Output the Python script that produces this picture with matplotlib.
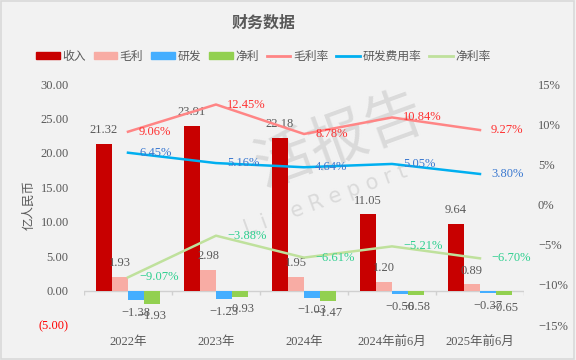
import matplotlib
matplotlib.use('Agg')
import matplotlib.pyplot as plt
import numpy as np
from matplotlib.patches import Patch, Rectangle
from matplotlib.lines import Line2D

plt.rcParams['font.family'] = ['Liberation Serif', 'Noto Sans CJK SC', 'DejaVu Sans']
plt.rcParams['axes.unicode_minus'] = True

categories = ['2022年', '2023年', '2024年', '2024年前6月', '2025年前6月']
revenue = [21.32, 23.91, 22.18, 11.05, 9.64]
gross = [1.93, 2.98, 1.95, 1.20, 0.89]
rnd = [-1.38, -1.23, -1.03, -0.56, -0.37]
net = [-1.93, -0.93, -1.47, -0.58, -0.65]
gross_rate = [9.06, 12.45, 8.78, 10.84, 9.27]
rnd_rate = [6.45, 5.16, 4.64, 5.05, 3.80]
net_rate = [-9.07, -3.88, -6.61, -5.21, -6.70]

bg = '#f2f2f2'
txt = '#595959'

fig = plt.figure(figsize=(5.76, 3.6), dpi=100, facecolor=bg)
fig.patches.append(Rectangle((0.002, 0.003), 0.995, 0.993, transform=fig.transFigure,
                             fill=False, edgecolor='#d9d9d9', lw=1.2))

ax = fig.add_axes([0.1458, 0.0972, 0.7639, 0.6694])
ax.set_facecolor('none')
ax2 = ax.twinx()

# watermark, behind the bars
ax.text(0.59, 0.61, '活报告', fontsize=42, color='#dadada', rotation=20,
        ha='center', va='center', family=['Noto Sans CJK SC'], transform=fig.transFigure, zorder=0)
ax.text(0.565, 0.445, 'L i v e R e p o r t', fontsize=15, color='#dadada', rotation=20,
        ha='center', va='center', family=['DejaVu Sans'], transform=fig.transFigure, zorder=0)

x = np.arange(len(categories))
w = 0.182
bar_sets = [(revenue, '#c80000', -1.5), (gross, '#f8aca4', -0.5),
            (rnd, '#44aeff', 0.5), (net, '#92d050', 1.5)]
for vals, col, k in bar_sets:
    xs = x + k * w
    ax.bar(xs, vals, width=w, color=col, zorder=2)
    for xi, v in zip(xs, vals):
        s = f'{v:.2f}'.replace('-', '−')
        off = 10 if v >= 0 else -9
        ax.annotate(s, (xi, v), xytext=(0, off), textcoords='offset points',
                    ha='center', va='center', fontsize=9, color=txt)

ax.set_xlim(-0.5, len(categories) - 0.5)
ax.set_ylim(-5, 30)
ax.set_yticks(np.arange(-5, 31, 5))
ax.set_yticklabels(['(5.00)'] + [f'{v:.2f}' for v in np.arange(0, 31, 5)])
ax.tick_params(axis='y', length=0, pad=11, labelsize=9, labelcolor=txt)
ax.get_yticklabels()[0].set_color('#ff0000')
ax.set_xticks(x)
ax.set_xticklabels(categories)
ax.tick_params(axis='x', length=0, pad=8, labelsize=9, labelcolor=txt)
for sp in ax.spines.values():
    sp.set_visible(False)
for sp in ax2.spines.values():
    sp.set_visible(False)
ax.axhline(0, color='#d0d0d0', lw=1, zorder=1)
ax.vlines(np.arange(-0.5, len(categories)), -0.7, 0, color='#d0d0d0', lw=1, zorder=1)
ax.set_ylabel('亿人民币', fontsize=9, color=txt, labelpad=2, family=['Noto Sans CJK SC'])

ax2.set_ylim(-15, 15)
ax2.set_yticks(np.arange(-15, 16, 5))
ax2.set_yticklabels([f'{v}%'.replace('-', '−') for v in range(-15, 16, 5)])
ax2.tick_params(axis='y', length=0, pad=10, labelsize=9, labelcolor=txt)

line_sets = [(gross_rate, '#ff8585', '#ff3030'), (rnd_rate, '#00aff0', '#3a78d0'),
             (net_rate, '#bfe19c', '#2ecf8f')]
for vals, lc, tc in line_sets:
    ax2.plot(x, vals, color=lc, lw=1.8, zorder=3)
    for xi, v in zip(x, vals):
        ax2.annotate(f'{v:.2f}%'.replace('-', '−'), (xi, v), xytext=(8, 0),
                     textcoords='offset points', ha='left', va='center',
                     fontsize=9, color=tc, zorder=4)

fig.text(0.457, 0.938, '财务数据', fontsize=11.5, fontweight='bold', color=txt,
         ha='center', va='center', family=['Noto Sans CJK SC'])

handles = [Patch(color='#c80000'), Patch(color='#f8aca4'), Patch(color='#44aeff'),
           Patch(color='#92d050'), Line2D([], [], color='#ff8585', lw=2),
           Line2D([], [], color='#00aff0', lw=2), Line2D([], [], color='#bfe19c', lw=2)]
labels = ['收入', '毛利', '研发', '净利', '毛利率', '研发费用率', '净利率']
fig.legend(handles, labels, loc='center', bbox_to_anchor=(0.457, 0.842), ncol=7,
           frameon=False, fontsize=8.5, handlelength=2.0, handleheight=0.6,
           handletextpad=0.2, columnspacing=0.7, labelcolor=txt)

fig.savefig('out.png', dpi=100, facecolor=bg)
